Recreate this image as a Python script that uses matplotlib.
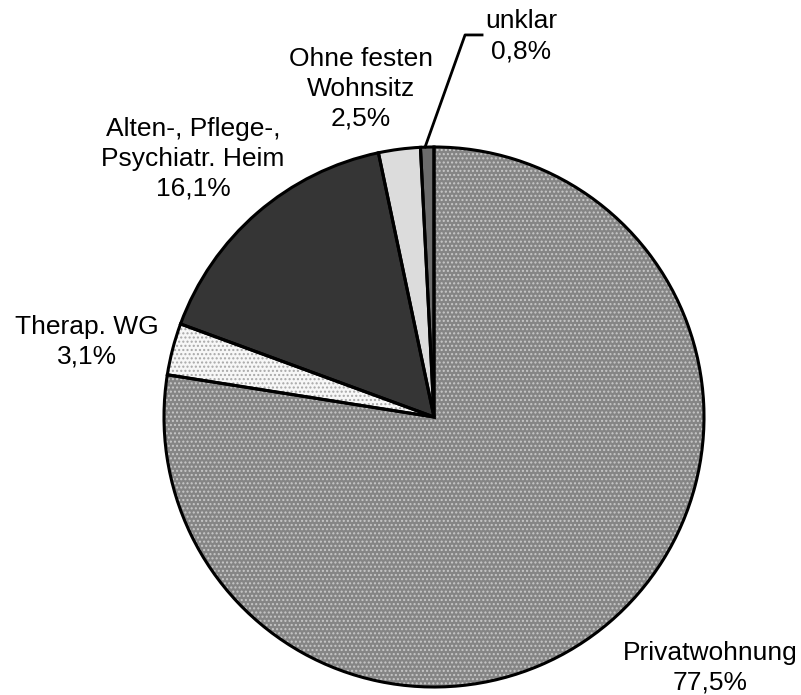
import matplotlib
matplotlib.use("Agg")
import matplotlib.pyplot as plt
from matplotlib.lines import Line2D

plt.rcParams['font.family'] = ['Liberation Sans', 'DejaVu Sans']

# Wohnsituation der Patienten (Anteile in %)
categories = ["Privatwohnung", "Therap. WG", "Alten-, Pflege-,\nPsychiatr. Heim",
              "Ohne festen\nWohnsitz", "unklar"]
shares = [77.5, 3.1, 16.1, 2.5, 0.8]
value_labels = ["77,5%", "3,1%", "16,1%", "2,5%", "0,8%"]

# fill colour, dot colour and dot pattern per slice
base_colors = ["#858585", "#f7f7f7", "#353535", "#dcdcdc", "#6c6c6c"]
dot_colors = ["#c8c8c8", "#a8a8a8", "#555555", "#f4f4f4", "#8a8a8a"]
hatches = ["....", "....", "", "", ""]

# label centres in axes data units (pie radius = 1)
label_pos = [(1.022, -0.93), (-1.285, 0.28), (-0.893, 0.957),
             (-0.27, 1.215), (0.322, 1.41)]

W, H = 801, 695
cx, cy, r = 434, 417, 270
fig = plt.figure(figsize=(W / 100, H / 100), dpi=100)
ax = fig.add_axes([(cx - r) / W, (H - cy - r) / H, 2 * r / W, 2 * r / H])

# textured fill layer
wedges, _ = ax.pie(shares, startangle=90, counterclock=False, radius=1,
                   colors=base_colors,
                   wedgeprops=dict(linewidth=0))
for w, hc, h in zip(wedges, dot_colors, hatches):
    if h:
        w.set_hatch(h)
        w.set_edgecolor(hc)
        w.set_linewidth(0)

# outline layer
ax.pie(shares, startangle=90, counterclock=False, radius=1,
       colors=["none"] * len(shares),
       wedgeprops=dict(linewidth=2.2, edgecolor="black", fill=False))

for cat, val, (x, y) in zip(categories, value_labels, label_pos):
    ax.text(x, y, f"{cat}\n{val}", ha="center", va="center", fontsize=19,
            linespacing=1.3, color="black")

# leader line for the smallest slice
ax.add_line(Line2D([-0.033, 0.115, 0.178], [1.0, 1.415, 1.415],
                   color="black", linewidth=2, clip_on=False))

ax.set_xlim(-1, 1)
ax.set_ylim(-1, 1)
ax.set_aspect("equal")
ax.axis("off")

fig.savefig("out.png", dpi=100, facecolor="white")
